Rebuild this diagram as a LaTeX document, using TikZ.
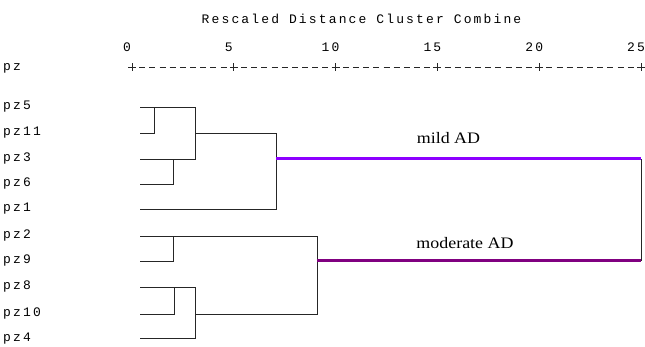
\documentclass[tikz,border=0pt]{standalone}
\usepackage{fontspec}
\newfontfamily\monofont[LetterSpace=16.5]{Liberation Mono}
\newfontfamily\groupfont[FakeStretch=1.12]{Liberation Serif}
\definecolor{mildcol}{RGB}{140,0,255}
\definecolor{modcol}{RGB}{128,0,128}
\tikzset{
  tree/.style={draw=black!85, line width=0.9pt},
  grouplink/.style={line width=3pt},
  mono/.style={font=\monofont\fontsize{13}{13}\selectfont, inner sep=0pt},
  grouplabel/.style={font=\groupfont\fontsize{16}{16}\selectfont, inner sep=0pt},
}

\begin{document}
\begin{tikzpicture}[x=1pt,y=-1pt]
  \useasboundingbox (0,0) rectangle (645,347);

  % scale on top
  \node[mono] (title) at (361.5,19) {Rescaled Distance Cluster Combine};
  \node[mono, anchor=west] (axisname) at (3,68) {pz};
  \foreach \v in {0,5,10,15,20,25}
  {
    \coordinate (t\v) at ({132+\v*20.36},67);
    \node[mono] (n\v) at ({127+\v*20.36},47) {\v};
    \draw[tree] ([xshift=-4pt]t\v) -- ([xshift=4pt]t\v)
                ([yshift=-4pt]t\v) -- ([yshift=4pt]t\v);
  }
  \foreach \v in {0,5,10,15,20}
    \foreach \k in {1,...,9}
      \draw[tree] ([xshift={\k*10.18-3}]t\v) -- ([xshift={\k*10.18+3}]t\v);

  % cases
  \foreach \name/\y in {5/107,11/133,3/159,6/184,1/209,2/236,9/261,8/287,10/314,4/338.5}
  {
    \node[mono, anchor=west] (pz\name) at (3,\y) {pz\name};
    \coordinate (l\name) at (140,\y);
  }

  % merge points
  \coordinate (m511) at (154,107);
  \coordinate (m36) at (173,159);
  \coordinate (mtop) at (195,107);
  \coordinate (mild) at (276,133);
  \coordinate (m29) at (173,236);
  \coordinate (m810) at (174,287);
  \coordinate (m4) at (195,287);
  \coordinate (mod) at (317,236);
  \coordinate (root) at (641,159);

  % upper cluster
  \draw[tree] (l5) -- (mtop |- l5) -- (mtop |- l3) -- (l3);
  \draw[tree] (l11) -| (m511);
  \draw[tree] (l6) -| (m36);
  \draw[tree] (mtop |- l11) -- (mild) |- (l1);

  % lower cluster
  \draw[tree] (l2) -- (mod) |- (m4 |- l10);
  \draw[tree] (l9) -| (m29);
  \draw[tree] (l10) -| (m810);
  \draw[tree] (l8) -- (m4) |- (l4);

  % last join
  \draw[tree] (root) -- (root |- l9);
  \draw[grouplink, mildcol] (mild |- l3) -- (root);
  \draw[grouplink, modcol] (mod |- l9) -- (root |- l9);
  \node[grouplabel] (mildlabel) at (448.5,138) {mild AD};
  \node[grouplabel] (modlabel) at (465,243) {moderate AD};
\end{tikzpicture}
\end{document}
